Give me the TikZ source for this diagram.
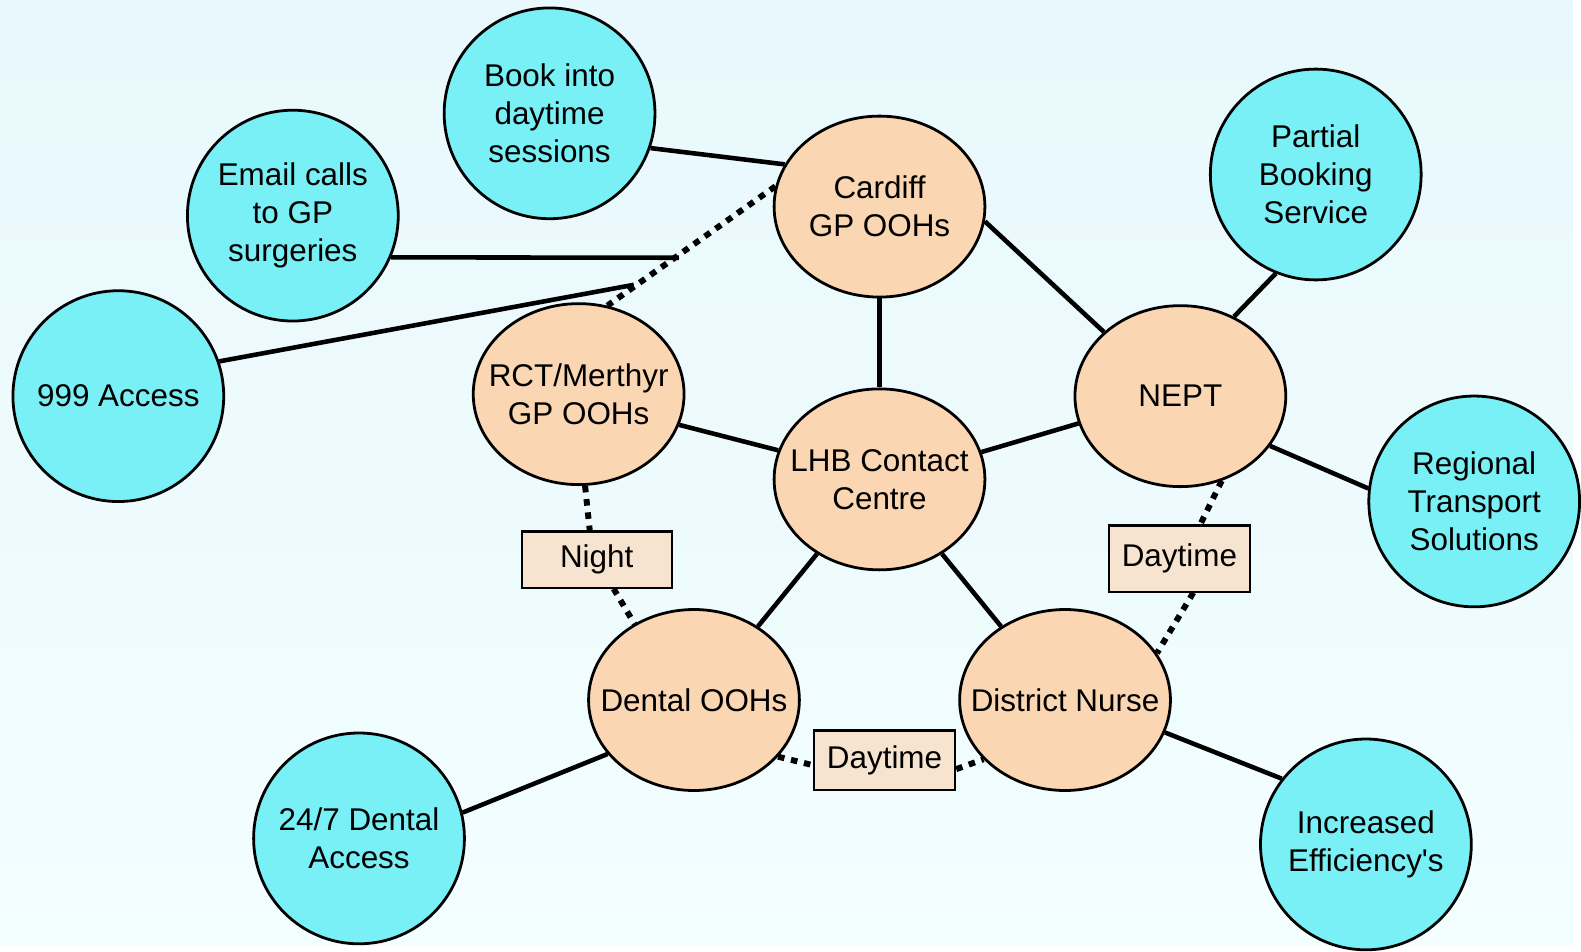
\documentclass[tikz,border=0pt]{standalone}
\usepackage{fontspec}
\setmainfont{Liberation Sans}
\usetikzlibrary{shapes.geometric}
\definecolor{bgtop}{HTML}{E8F8FC}
\definecolor{bgbot}{HTML}{F3FEFF}
\definecolor{cyanfill}{HTML}{78F0F5}
\definecolor{peach}{HTML}{FAD6B2}
\definecolor{boxfill}{HTML}{F7E4D0}
\tikzset{
  txt/.style={align=center, font=\fontsize{15.8}{19.2}\selectfont, inner sep=0pt},
  bubble/.style={circle, draw=black, line width=1.4pt, fill=cyanfill, minimum size=106pt, inner sep=0pt, align=center, font=\fontsize{15.8}{19.2}\selectfont},
  hub/.style={ellipse, draw=black, line width=1.4pt, fill=peach, minimum width=106pt, minimum height=91pt, inner sep=0pt},
  tag/.style={rectangle, draw=black, line width=1.1pt, fill=boxfill, minimum width=75.5pt, minimum height=28.2pt, inner sep=0pt, font=\fontsize{15.8}{19}\selectfont},
  link/.style={line width=2.3pt},
  dotlink/.style={line width=3pt, dash pattern=on 3.3pt off 3.4pt}
}
\begin{document}
\begin{tikzpicture}[x=0.50425pt,y=-0.50425pt]
\shade[top color=bgtop, bottom color=bgbot] (0,0) rectangle (1567.9,943.1);

% outer cyan circles
\node[bubble] (book) at (548,113) {Book into\\daytime\\sessions};
\node[bubble] (email) at (292,215) {Email calls\\to GP\\surgeries};
\node[bubble] (access) at (118,395) {999 Access};
\node[bubble] (partial) at (1312,174) {Partial\\Booking\\Service};
\node[bubble] (regional) at (1470,500) {Regional\\Transport\\Solutions};
\node[bubble] (eff) at (1362,842) {Increased\\Efficiency\textquotesingle s};
\node[bubble] (dental247) at (358,836) {24/7 Dental\\Access};

% inner peach ellipses
\node[hub] (cardiff) at (877,206) {};
\node[hub] (rct) at (577,393) {};
\node[hub] (lhb) at (877,478) {};
\node[hub] (nept) at (1177,395) {};
\node[hub] (dental) at (692,698) {};
\node[hub] (nurse) at (1062,698) {};
\node[txt] (cardiffT) at (cardiff) {Cardiff\\GP OOHs};
\node[txt] (rctT) at (rct) {RCT/Merthyr\\GP OOHs};
\node[txt] (lhbT) at (lhb) {LHB Contact\\Centre};
\node[txt] (neptT) at (nept) {NEPT};
\node[txt] (dentalT) at (dental) {Dental OOHs};
\node[txt] (nurseT) at (nurse) {District Nurse};

% tags
\node[tag] (night) at (595,558) {Night};
\node[tag, minimum height=33.2pt, minimum width=71pt] (dayr) at (1176,557) {Daytime};
\node[tag, minimum height=29.8pt, minimum width=71pt] (dayb) at (882,758) {Daytime};

% junctions on the dotted Cardiff--RCT link
\coordinate (j1) at (677,257);
\coordinate (j2) at (632,284);

% dotted links
\draw[dotlink] (cardiff.169) -- (rct.72);
\draw[dotlink] (rct.-86) -- ([xshift=-3.5pt]night.north);
\draw[dotlink] ([xshift=8.5pt]night.south) -- (dental.128);
\draw[dotlink] (nept.-64) -- ([xshift=10.5pt]dayr.north);
\draw[dotlink] ([xshift=7pt]dayr.south) -- (nurse.27);
\draw[dotlink] (dental.-34) -- ([yshift=-2.5pt]dayb.west);
\draw[dotlink] ([yshift=-4.5pt]dayb.east) -- (nurse.216);

% solid links
\draw[link] (book.-19) -- (cardiff.156);
\draw[link] (email.-23.6) -- (j1);
\draw[link] (access.19) -- (j2);
\draw[link] (cardiff) -- (lhb);
\draw[link] (cardiff.-8.7) -- (nept.140);
\draw[link] (rct.-17) -- (lhb.164);
\draw[link] (lhb.15) -- (nept.-165);
\draw[link] (lhb.230) -- (dental.49);
\draw[link] (lhb.-50) -- (nurse.131);
\draw[link] (nept.56) -- (partial.248);
\draw[link] (nept.-29) -- (regional.173);
\draw[link] (nurse.-18) -- (eff.142);
\draw[link] (dental.212) -- (dental247.14);

\useasboundingbox (0,0) rectangle (1567.9,943.1);
\end{tikzpicture}
\end{document}
